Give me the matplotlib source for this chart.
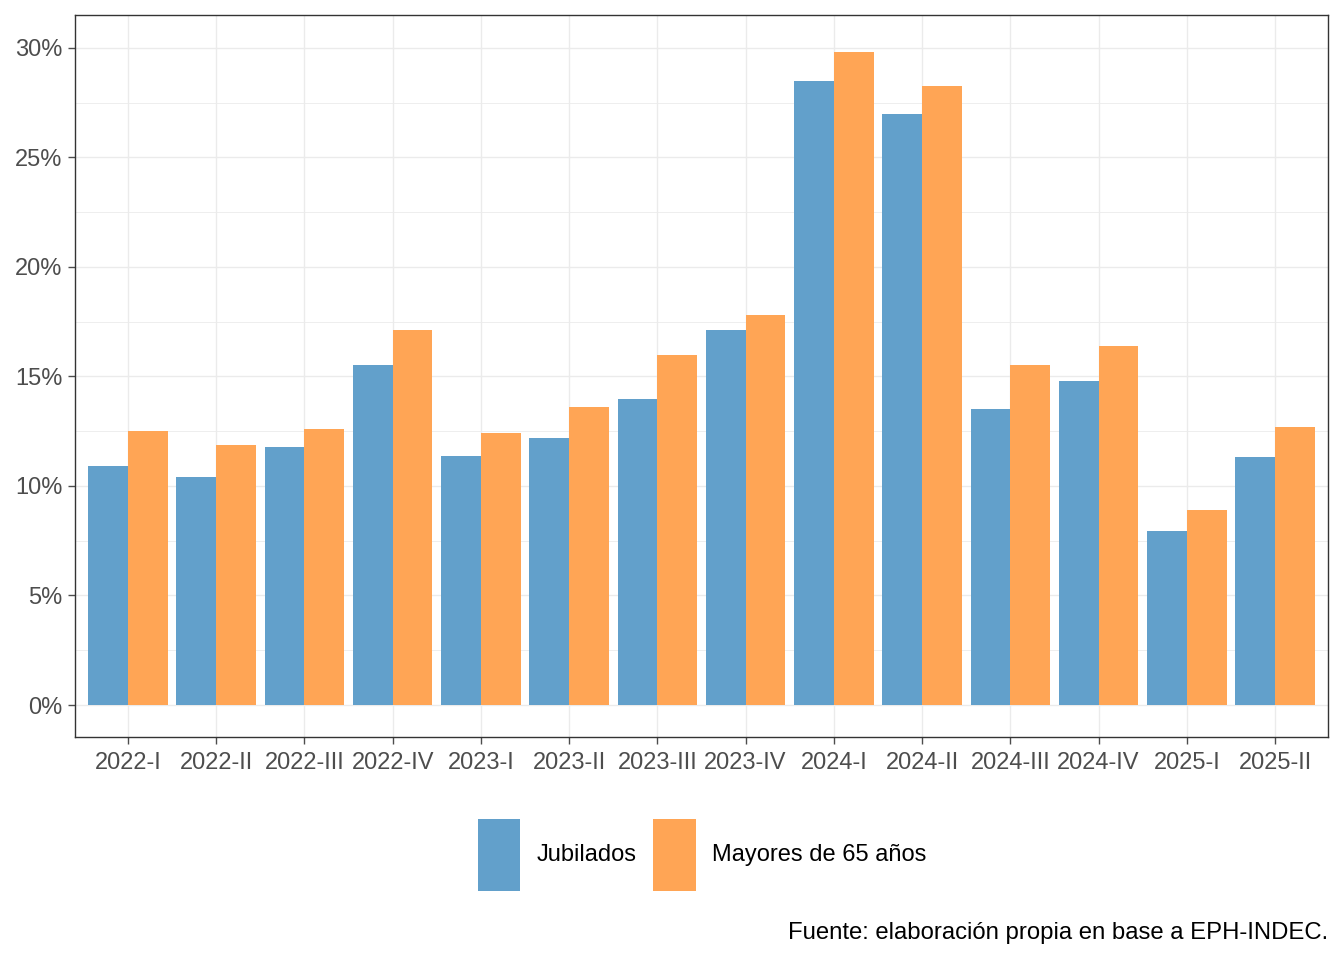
import numpy as np
import matplotlib.pyplot as plt
from matplotlib.patches import Patch
from matplotlib.ticker import MultipleLocator, FuncFormatter

plt.rcParams['font.family'] = ['Liberation Sans', 'DejaVu Sans']

# Datos (porcentaje)
trimestres = ['2022-I', '2022-II', '2022-III', '2022-IV', '2023-I', '2023-II', '2023-III',
              '2023-IV', '2024-I', '2024-II', '2024-III', '2024-IV', '2025-I', '2025-II']
jubilados = [10.9, 10.4, 11.8, 15.5, 11.35, 12.2, 13.95, 17.1, 28.5, 27.0, 13.5, 14.8, 7.95, 11.3]
mayores65 = [12.5, 11.85, 12.6, 17.1, 12.4, 13.6, 16.0, 17.8, 29.8, 28.25, 15.5, 16.4, 8.9, 12.7]

c_jub = '#62a0cb'
c_may = '#ffa555'

fig = plt.figure(figsize=(13.44, 9.6), dpi=100)
ax = fig.add_axes([75/1344, 1 - 737/960, (1328-75)/1344, (737-15)/960])

x = np.arange(1, len(trimestres) + 1)
w = 0.45
ax.bar(x - w/2, jubilados, width=w, color=c_jub, zorder=3)
ax.bar(x + w/2, mayores65, width=w, color=c_may, zorder=3)

ax.set_xlim(0.4, len(trimestres) + 0.6)
ax.set_ylim(-1.46, 31.5)
ax.set_xticks(x)
ax.set_xticklabels(trimestres)
ax.yaxis.set_major_locator(MultipleLocator(5))
ax.yaxis.set_minor_locator(MultipleLocator(2.5))
ax.yaxis.set_major_formatter(FuncFormatter(lambda v, p: f'{v:.0f}%'))

ax.grid(True, which='major', color='#ebebeb', linewidth=1.0, zorder=0)
ax.grid(True, which='minor', axis='y', color='#ebebeb', linewidth=0.6, zorder=0)
ax.set_axisbelow(True)
for s in ax.spines.values():
    s.set_color('#333333')
    s.set_linewidth(1.0)
ax.tick_params(axis='both', which='major', labelsize=17, colors='#4d4d4d',
               length=5, width=1, pad=4)
ax.tick_params(axis='x', which='major', pad=6)
ax.tick_params(axis='y', which='minor', length=0)
for lbl in ax.get_xticklabels() + ax.get_yticklabels():
    lbl.set_color('#4d4d4d')

handles = [Patch(facecolor=c_jub, edgecolor='none', label='Jubilados'),
           Patch(facecolor=c_may, edgecolor='none', label='Mayores de 65 años')]
fig.legend(handles=handles, loc='center', bbox_to_anchor=(702/1344, 1 - 855/960),
           ncol=2, frameon=False, fontsize=17, handlelength=1.8, handleheight=4.25,
           handletextpad=0.7, columnspacing=0.7)

fig.text(1328/1344, 1 - 933/960, 'Fuente: elaboración propia en base a EPH-INDEC.',
         ha='right', va='center', fontsize=17.2, color='black')

fig.savefig('out.png', dpi=100)
